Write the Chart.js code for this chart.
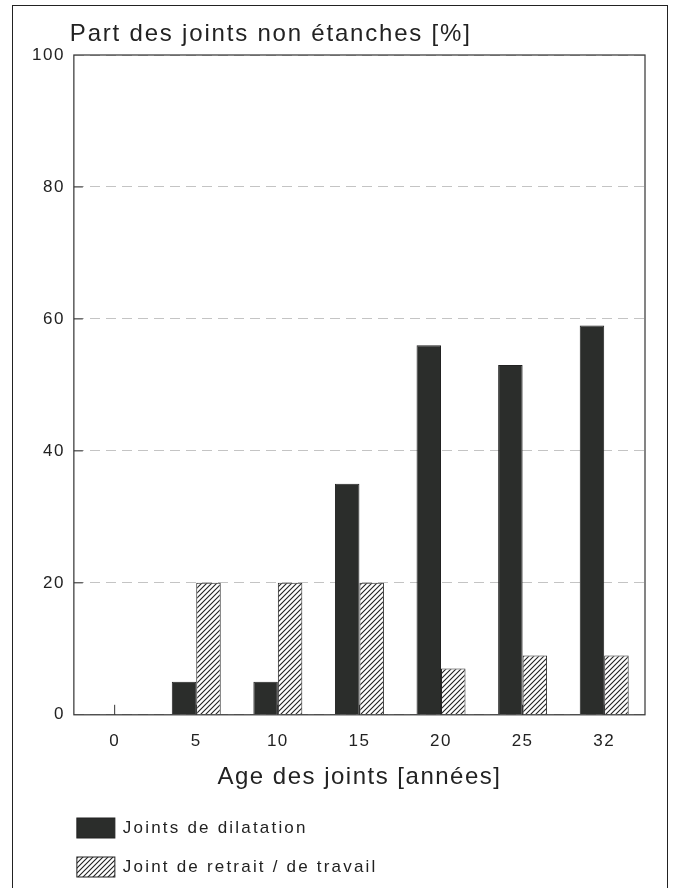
<!DOCTYPE html>
<html lang="fr">
<head>
<meta charset="UTF-8">
<title>Part des joints non étanches</title>
<script src="https://cdn.jsdelivr.net/npm/chart.js"></script>
<style>
    body { margin: 0; background: #fff; overflow: hidden; }
    .frame {
        position: absolute; left: 12px; top: 5px; width: 656px; height: 900px;
        border: 1.5px solid #222; border-bottom: none; box-sizing: border-box;
    }
    .wrap { position: absolute; left: 0; top: 0; width: 673px; height: 888px; }
</style>
</head>
<body>
<div class="frame"></div>
<div class="wrap"><canvas id="chart"></canvas></div>
<script>
// data
const ages = ['0', '5', '10', '15', '20', '25', '32'];
const dilatation = [0, 5, 5, 35, 56, 53, 59];
const retrait = [0, 20, 20, 20, 7, 9, 9];
const yTicks = [0, 20, 40, 60, 80, 100];

const titleText = 'Part des joints non étanches [%]';
const xTitleText = 'Age des joints [années]';
const FONT = "'Liberation Sans', Arial, sans-serif";

// hatch pattern "////"
function makeHatch() {
    const c = document.createElement('canvas');
    c.width = 5; c.height = 5;
    const g = c.getContext('2d');
    g.fillStyle = '#fff';
    g.fillRect(0, 0, 5, 5);
    g.strokeStyle = '#222';
    g.lineWidth = 1.1;
    g.beginPath();
    g.moveTo(0, 5); g.lineTo(5, 0);
    g.moveTo(-1, 1); g.lineTo(1, -1);
    g.moveTo(4, 6); g.lineTo(6, 4);
    g.stroke();
    return g.createPattern(c, 'repeat');
}
const hatch = makeHatch();

const framePlugin = {
    id: 'frame',
    beforeLayout(chart) { chart.ctx.letterSpacing = '1.5px'; },
    beforeDraw(chart) { chart.ctx.letterSpacing = '1.5px'; },
    beforeDatasetsDraw(chart) {
        // inward ticks
        const { ctx, chartArea: a, scales: { x, y } } = chart;
        ctx.save();
        ctx.strokeStyle = '#333';
        ctx.lineWidth = 1;
        ctx.beginPath();
        yTicks.forEach(v => {
            if (v > 0 && v < 100) {
                const py = y.getPixelForValue(v);
                ctx.moveTo(a.left, py); ctx.lineTo(a.left + 9, py);
            }
        });
        ages.forEach((c, i) => {
            const px = x.getPixelForValue(i);
            ctx.moveTo(px, a.bottom); ctx.lineTo(px, a.bottom - 10);
        });
        ctx.stroke();
        ctx.restore();
    },
    afterDatasetsDraw(chart) {
        const { ctx, chartArea: a } = chart;
        ctx.save();
        ctx.strokeStyle = '#333';
        ctx.lineWidth = 1.2;
        ctx.strokeRect(a.left, a.top, a.right - a.left, a.bottom - a.top);
        ctx.restore();
    },
    afterDraw(chart) {
        const { ctx, chartArea: a } = chart;
        ctx.save();
        ctx.fillStyle = '#222';
        ctx.textBaseline = 'middle';
        ctx.textAlign = 'left';
        // title
        ctx.font = '24px ' + FONT;
        ctx.letterSpacing = '1.8px';
        ctx.fillText(titleText, a.left - 4, a.top - 21);
        // legend
        ctx.font = '17px ' + FONT;
        ctx.letterSpacing = '2.2px';
        const x0 = a.left + 3;
        const rows = [chart.height - 60, chart.height - 21];
        chart.data.datasets.forEach((ds, i) => {
            const yy = rows[i];
            ctx.fillStyle = ds.backgroundColor;
            ctx.fillRect(x0, yy - 10, 38, 20);
            ctx.strokeStyle = '#222';
            ctx.lineWidth = 1;
            ctx.strokeRect(x0, yy - 10, 38, 20);
            ctx.fillStyle = '#222';
            ctx.fillText(ds.label, x0 + 46, yy);
        });
        ctx.restore();
    }
};

new Chart(document.getElementById('chart'), {
    type: 'bar',
    data: {
        labels: ages,
        datasets: [{
            label: 'Joints de dilatation',
            data: dilatation,
            backgroundColor: '#2b2d2b',
            borderColor: '#222',
            borderWidth: 1
        }, {
            label: 'Joint de retrait / de travail',
            data: retrait,
            backgroundColor: hatch,
            borderColor: '#222',
            borderWidth: 1
        }]
    },
    options: {
        responsive: true,
        maintainAspectRatio: false,
        animation: false,
        layout: { padding: { top: 55, right: 28, left: 23, bottom: 96 } },
        datasets: { bar: { categoryPercentage: 0.6, barPercentage: 1 } },
        plugins: {
            legend: { display: false },
            title: { display: false },
            tooltip: { enabled: false }
        },
        scales: {
            x: {
                grid: { display: false },
                border: { display: false },
                ticks: { color: '#222', font: { family: FONT, size: 17 }, padding: 8 },
                title: {
                    display: true, text: xTitleText, color: '#222',
                    font: { family: FONT, size: 24 }, padding: { top: 4, bottom: 0 }
                }
            },
            y: {
                min: 0, max: 100,
                afterBuildTicks: s => { s.ticks = yTicks.map(v => ({ value: v })); },
                grid: { color: '#c4c4c4', lineWidth: 1, drawTicks: false },
                border: { display: false, dash: [10, 6] },
                ticks: { color: '#222', font: { family: FONT, size: 17 }, padding: 9 }
            }
        }
    },
    plugins: [framePlugin]
});
</script>
</body>
</html>
